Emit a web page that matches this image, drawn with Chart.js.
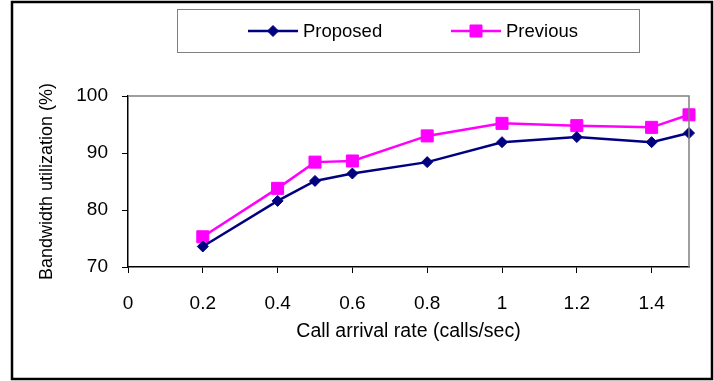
<html>
<head>
  <title>Bandwidth utilization</title>
  <script src="https://cdn.jsdelivr.net/npm/chart.js"></script>
  <style>
    body { margin: 0; background: #fff; }
  </style>
</head>
<body>
  <canvas id="bwChart" width="714" height="381"></canvas>

  <script>
    // values
    const arrivalRates = [0.2, 0.4, 0.5, 0.6, 0.8, 1.0, 1.2, 1.4, 1.5];
    const proposed = [73.6, 81.6, 85.1, 86.4, 88.4, 91.9, 92.8, 91.9, 93.5];
    const previous = [75.3, 83.8, 88.4, 88.6, 93.0, 95.2, 94.8, 94.5, 96.7];
    const yTicks = [70, 80, 90, 100];
    const xTickStep = 0.2;

    const FONT = "'Liberation Sans', Arial, sans-serif";

    const pairs = (xs, ys) => xs.map((x, i) => ({ x: x, y: ys[i] }));

    // outer frame, gray top/right edges of plot, boxed legend
    const framePlugin = {
      id: 'frame',
      afterDraw(chart) {
        const ctx = chart.ctx;
        const a = chart.chartArea;
        ctx.save();
        ctx.strokeStyle = '#000';
        ctx.lineWidth = 2.5;
        ctx.strokeRect(12, 2, 700, 377);

        ctx.strokeStyle = '#808080';
        ctx.lineWidth = 1.5;
        ctx.beginPath();
        ctx.moveTo(a.left, a.top);
        ctx.lineTo(a.right, a.top);
        ctx.lineTo(a.right, a.bottom);
        ctx.stroke();

        // legend
        ctx.lineWidth = 1;
        ctx.strokeRect(177.5, 9.5, 462, 43);
        const starts = [248, 451];
        const ly = 31;
        chart.data.datasets.forEach((ds, i) => {
          const x0 = starts[i];
          ctx.strokeStyle = ds.borderColor;
          ctx.fillStyle = ds.backgroundColor;
          ctx.lineWidth = 2.5;
          ctx.beginPath();
          ctx.moveTo(x0, ly);
          ctx.lineTo(x0 + 50, ly);
          ctx.stroke();
          ctx.lineWidth = 1;
          Chart.helpers.drawPoint(ctx, {
            pointStyle: ds.pointStyle,
            radius: ds.pointRadius,
            borderWidth: 1
          }, x0 + 25, ly);
          ctx.fillStyle = '#000';
          ctx.font = '18.5px ' + FONT;
          ctx.textBaseline = 'middle';
          ctx.textAlign = 'left';
          ctx.fillText(ds.label, x0 + 55, ly + 1);
        });
        ctx.restore();
      }
    };

    const ctx = document.getElementById('bwChart').getContext('2d');
    new Chart(ctx, {
      type: 'line',
      data: {
        datasets: [
          {
            label: 'Proposed',
            data: pairs(arrivalRates, proposed),
            borderColor: '#000080',
            backgroundColor: '#000080',
            borderWidth: 2.5,
            pointStyle: 'rectRot',
            pointRadius: 5.5,
            pointBorderWidth: 1,
            tension: 0,
            clip: false
          },
          {
            label: 'Previous',
            data: pairs(arrivalRates, previous),
            borderColor: '#ff00ff',
            backgroundColor: '#ff00ff',
            borderWidth: 2.5,
            pointStyle: 'rect',
            pointRadius: 8.5,
            pointBorderWidth: 1,
            tension: 0,
            clip: false
          }
        ]
      },
      options: {
        responsive: false,
        animation: false,
        devicePixelRatio: 1,
        layout: { padding: { left: 0, top: 96, right: 25, bottom: 0 } },
        plugins: {
          legend: { display: false },
          tooltip: { enabled: false },
          frame: {}
        },
        scales: {
          x: {
            type: 'linear',
            min: 0,
            max: 1.5,
            ticks: {
              stepSize: xTickStep,
              includeBounds: false,
              color: '#000',
              padding: 19,
              font: { family: FONT, size: 19 },
              callback: v => String(Math.round(v * 10) / 10)
            },
            grid: { drawOnChartArea: false, tickLength: 6, color: '#000', tickColor: '#000' },
            border: { color: '#000', width: 1.5 },
            title: {
              display: true,
              text: 'Call arrival rate (calls/sec)',
              color: '#000',
              font: { family: FONT, size: 19.5 },
              padding: { top: 0, bottom: 38 }
            },
            afterFit(scale) { scale.height = 114; }
          },
          y: {
            min: 70,
            max: 100,
            afterBuildTicks(scale) { scale.ticks = yTicks.map(v => ({ value: v })); },
            ticks: {
              color: '#000',
              padding: 14,
              font: { family: FONT, size: 19 }
            },
            grid: { drawOnChartArea: false, tickLength: 6, color: '#000', tickColor: '#000' },
            border: { color: '#000', width: 1.5 },
            title: {
              display: true,
              text: 'Bandwidth utilization (%)',
              color: '#000',
              font: { family: FONT, size: 18 },
              padding: { top: 36, bottom: 0 }
            },
            afterFit(scale) { scale.width = 128; }
          }
        }
      },
      plugins: [framePlugin]
    });
  </script>
</body>
</html>
